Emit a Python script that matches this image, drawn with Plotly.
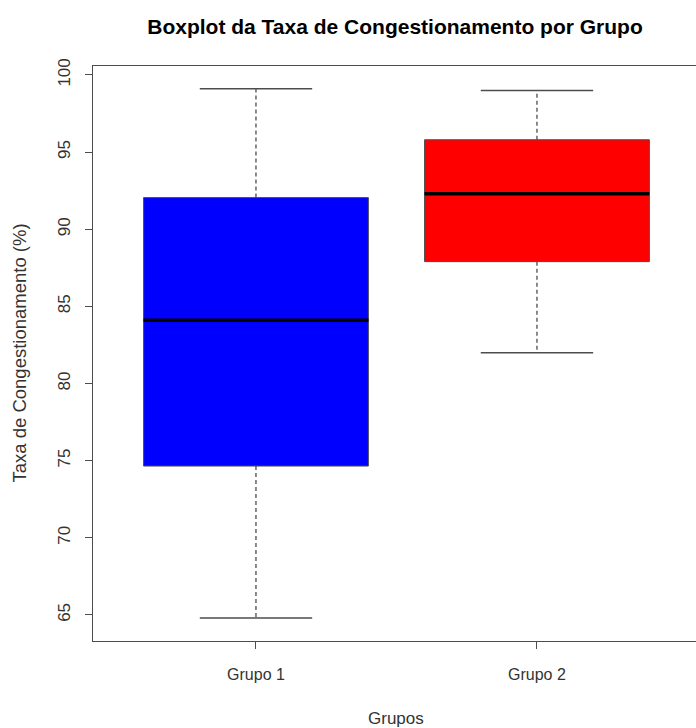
import plotly.graph_objects as go

groups = ["Grupo 1", "Grupo 2"]
positions = [1, 2]
lower_whisker = [64.8, 82.0]
q1 = [74.65, 87.9]
median = [84.1, 92.3]
q3 = [92.05, 95.8]
upper_whisker = [99.1, 99.0]
colors = ["#0000FF", "#FF0000"]
y_ticks = [65, 70, 75, 80, 85, 90, 95, 100]

box_half = 0.4
cap_half = 0.2
line_col = "#4d4d4d"

fig = go.Figure()
for i, pos in enumerate(positions):
    # box
    fig.add_trace(go.Scatter(
        x=[pos - box_half, pos + box_half, pos + box_half, pos - box_half, pos - box_half],
        y=[q1[i], q1[i], q3[i], q3[i], q1[i]],
        mode="lines", fill="toself", fillcolor=colors[i],
        line=dict(color=line_col, width=1), hoverinfo="skip", showlegend=False))
    # median
    fig.add_trace(go.Scatter(
        x=[pos - box_half, pos + box_half], y=[median[i], median[i]],
        mode="lines", line=dict(color="black", width=3.5), showlegend=False))
    # whiskers (dashed)
    fig.add_trace(go.Scatter(
        x=[pos, pos, None, pos, pos],
        y=[q3[i], upper_whisker[i], None, q1[i], lower_whisker[i]],
        mode="lines", line=dict(color=line_col, width=1.3, dash="4px,3px"), showlegend=False))
    # caps
    fig.add_trace(go.Scatter(
        x=[pos - cap_half, pos + cap_half, None, pos - cap_half, pos + cap_half],
        y=[upper_whisker[i], upper_whisker[i], None, lower_whisker[i], lower_whisker[i]],
        mode="lines", line=dict(color=line_col, width=1.5), showlegend=False))

font_family = "Liberation Sans, Arial, sans-serif"
fig.update_layout(
    width=696, height=728,
    margin=dict(l=93, r=0, t=66, b=87),
    paper_bgcolor="white", plot_bgcolor="white",
    font=dict(family=font_family, color="#333333", size=16),
    title=dict(text="<b>Boxplot da Taxa de Congestionamento por Grupo</b>",
               xref="container", x=395 / 696, xanchor="center",
               yref="container", y=1 - 27 / 728, yanchor="middle",
               font=dict(size=21, color="black", family=font_family)),
    xaxis=dict(range=[0.42, 2.566], tickvals=positions, ticktext=groups,
               showgrid=False, zeroline=False, showline=True, mirror=True,
               linecolor=line_col, linewidth=1.3, ticks="outside", ticklen=7,
               tickcolor=line_col, tickwidth=1.3, ticklabelstandoff=12,
               tickfont=dict(size=16, color="#333333")),
    yaxis=dict(range=[63.31, 100.58], tickvals=y_ticks,
               showgrid=False, zeroline=False, showline=True, mirror=False,
               linecolor=line_col, linewidth=1.3, ticks="outside", ticklen=7,
               tickcolor=line_col, tickwidth=1.3, tickangle=-90, ticklabelstandoff=8,
               tickfont=dict(size=17, color="#333333")),
    annotations=[
        dict(text="Grupos", xref="paper", yref="paper", x=(396 - 93) / (696 - 93), y=0,
             yshift=-77, showarrow=False, yanchor="middle", xanchor="center",
             font=dict(size=17, color="#333333")),
        dict(text="Taxa de Congestionamento (%)", xref="paper", yref="paper", x=0, y=0.5,
             xshift=-74, showarrow=False, textangle=-90, xanchor="center", yanchor="middle",
             font=dict(size=18.5, color="#333333")),
    ],
)
fig.write_html("out.html", config={"displayModeBar": False},
               post_script="document.body.style.margin='0';document.body.style.padding='0';")
